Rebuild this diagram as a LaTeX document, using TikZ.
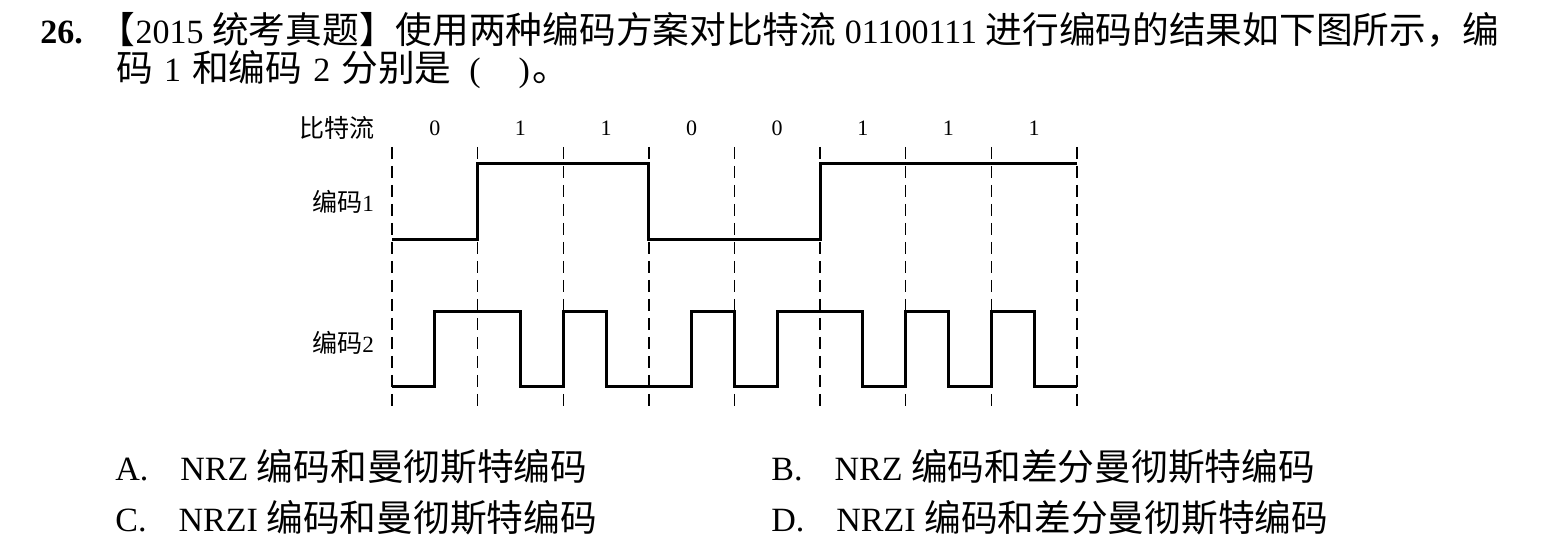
\documentclass[tikz,border=0pt]{standalone}
\usepackage{fontspec}
\setmainfont{Liberation Serif}
\newfontfamily\cjk[Scale=1.08]{Noto Sans CJK SC}

\begin{document}
\begin{tikzpicture}[x=0.5pt,y=-0.5pt,
  txt/.style={anchor=west,inner sep=0pt,font=\fontsize{17}{20}\selectfont},
  lbl/.style={inner sep=0pt,font=\fontsize{11.6}{14}\selectfont},
  grid/.style={line width=0.7pt,dash pattern=on 6pt off 3.5pt},
  wave/.style={line width=1.5pt}]
\useasboundingbox (0,0) rectangle (1542,549);
\def\xO{392}
\def\bitW{85.6}
\def\gap{\hspace{5.5pt}}
% question
\node[txt] (qa) at (40,30) {\textbf{26.}\hspace{8pt}{\cjk 【}2015 {\cjk 统考真题】使用两种编码方案对比特流} 01100111 {\cjk 进行编码的结果如下图所示，编}};
\node[txt] (qb) at (116,70) {{\cjk 码}\gap 1\gap{\cjk 和编码}\gap 2\gap{\cjk 分别是}\hspace{9pt}(\hspace{19pt})\hspace{1pt}{\cjk 。}};
% labels
\node[lbl] (bits) at (337,128) {\cjk 比特流};
\node[lbl] (codeA) at (343,202) {{\cjk 编码}1};
\node[lbl] (codeB) at (343,343) {{\cjk 编码}2};
\foreach \b [count=\i from 0] in {0,1,1,0,0,1,1,1}
  \node[lbl,font=\fontsize{11}{13}\selectfont] (b\i) at ({\xO+(\i+0.5)*\bitW},128) {\b};
\foreach \i in {0,...,8}
  \draw[grid] ({\xO+\i*\bitW},147) -- ({\xO+\i*\bitW},408);
% encoding 1
\draw[wave] (392,240) -| (477.6,164) -| (648.8,240) -| (820,164) -- (1076.8,164);
% encoding 2
\draw[wave] (392,387) -| (434.8,312) -| (520.4,387) -| (563.2,312) -| (606,387)
  -| (691.6,312) -| (734.4,387) -| (777.2,312) -| (862.8,387) -| (905.6,312)
  -| (948.4,387) -| (991.2,312) -| (1034,387) -- (1076.8,387);
% answers
\node[txt] (optA) at (115,467) {A.\hspace{16pt}NRZ {\cjk 编码和曼彻斯特编码}};
\node[txt] (optB) at (771,467) {B.\hspace{16pt}NRZ {\cjk 编码和差分曼彻斯特编码}};
\node[txt] (optC) at (115,518) {C.\hspace{16pt}NRZI {\cjk 编码和曼彻斯特编码}};
\node[txt] (optD) at (771,518) {D.\hspace{16pt}NRZI {\cjk 编码和差分曼彻斯特编码}};
\end{tikzpicture}
\end{document}
